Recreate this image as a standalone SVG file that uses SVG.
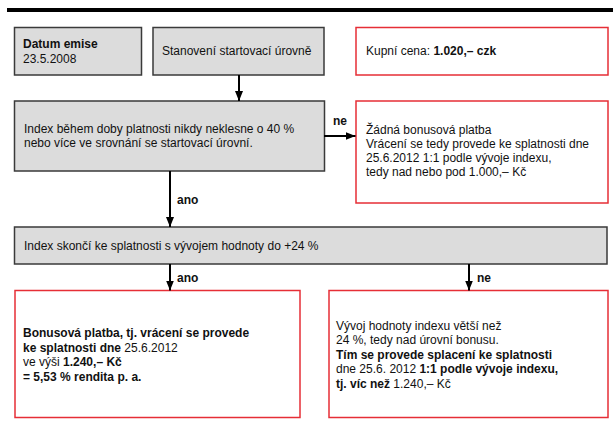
<svg xmlns="http://www.w3.org/2000/svg" width="613" height="436" viewBox="0 0 613 436">
<style>
text{font-family:"Liberation Sans",Arial,sans-serif;font-size:12px;fill:#111}
.b{font-weight:bold}
.g{fill:#dcdcdc;stroke:#3a3a3a;stroke-width:1.5}
.r{fill:#fff;stroke:#e62e36;stroke-width:1.5}
.c{stroke:#000;stroke-width:2;fill:none}
</style>
<defs>
<marker id="ah" markerUnits="userSpaceOnUse" markerWidth="10" markerHeight="8" refX="10" refY="4" orient="auto">
<path d="M0,0 L10,4 L0,8 z" fill="#000"/>
</marker>
</defs>
<rect x="7" y="8" width="606" height="4" fill="#000"/>
<g id="datum">
<rect class="g" x="14.5" y="27.5" width="127" height="47.5"/>
<text x="23" y="48" class="b">Datum emise</text>
<text x="23" y="63">23.5.2008</text>
</g>
<g id="start">
<rect class="g" x="153" y="27.5" width="171" height="47.5"/>
<text x="162" y="55">Stanovení startovací úrovně</text>
</g>
<g id="kupni">
<rect class="r" x="356" y="27.5" width="252" height="47.5"/>
<text x="366" y="55">Kupní cena: <tspan class="b">1.020,– czk</tspan></text>
</g>
<g id="index1">
<rect class="g" x="14.5" y="101" width="310" height="70"/>
<text x="24" y="133">Index během doby platnosti nikdy neklesne o 40 %</text>
<text x="24" y="147">nebo více ve srovnání se startovací úrovní.</text>
</g>
<g id="zadna">
<rect class="r" x="356" y="101" width="252" height="102"/>
<text x="366" y="134">Žádná bonusová platba</text>
<text x="366" y="148">Vrácení se tedy provede ke splatnosti dne</text>
<text x="366" y="162">25.6.2012 1:1 podle vývoje indexu,</text>
<text x="366" y="176">tedy nad nebo pod 1.000,– Kč</text>
</g>
<g id="index2">
<rect class="g" x="14.5" y="227" width="592.5" height="37"/>
<text x="24" y="250">Index skončí ke splatnosti s vývojem hodnoty do +24 %</text>
</g>
<g id="bonus">
<rect class="r" x="15" y="290.5" width="285" height="127"/>
<text x="23" y="337" class="b">Bonusová platba, tj. vrácení se provede</text>
<text x="23" y="351.5"><tspan class="b">ke splatnosti dne</tspan> 25.6.2012</text>
<text x="23" y="366">ve výši <tspan class="b">1.240,– Kč</tspan></text>
<text x="23" y="380.5" class="b">= 5,53 % rendita p. a.</text>
</g>
<g id="vyvoj">
<rect class="r" x="329" y="290.5" width="279" height="127"/>
<text x="336" y="329.5">Vývoj hodnoty indexu větší než</text>
<text x="336" y="344">24 %, tedy nad úrovní bonusu.</text>
<text x="336" y="358.5" class="b">Tím se provede splacení ke splatnosti</text>
<text x="336" y="373">dne 25.6. 2012 <tspan class="b">1:1 podle vývoje indexu,</tspan></text>
<text x="336" y="387.5"><tspan class="b">tj. víc než</tspan> 1.240,– Kč</text>
</g>
<g id="connectors">
<line class="c" x1="239" y1="75" x2="239" y2="101" marker-end="url(#ah)"/>
<line class="c" x1="324" y1="136" x2="355.5" y2="136" marker-end="url(#ah)"/>
<line class="c" x1="170" y1="171" x2="170" y2="227" marker-end="url(#ah)"/>
<line class="c" x1="170" y1="264" x2="170" y2="290.5" marker-end="url(#ah)"/>
<line class="c" x1="469" y1="264" x2="469" y2="290.5" marker-end="url(#ah)"/>
<text x="333" y="125" class="b">ne</text>
<text x="177" y="204" class="b">ano</text>
<text x="177" y="282" class="b">ano</text>
<text x="477" y="282" class="b">ne</text>
</g>
</svg>
